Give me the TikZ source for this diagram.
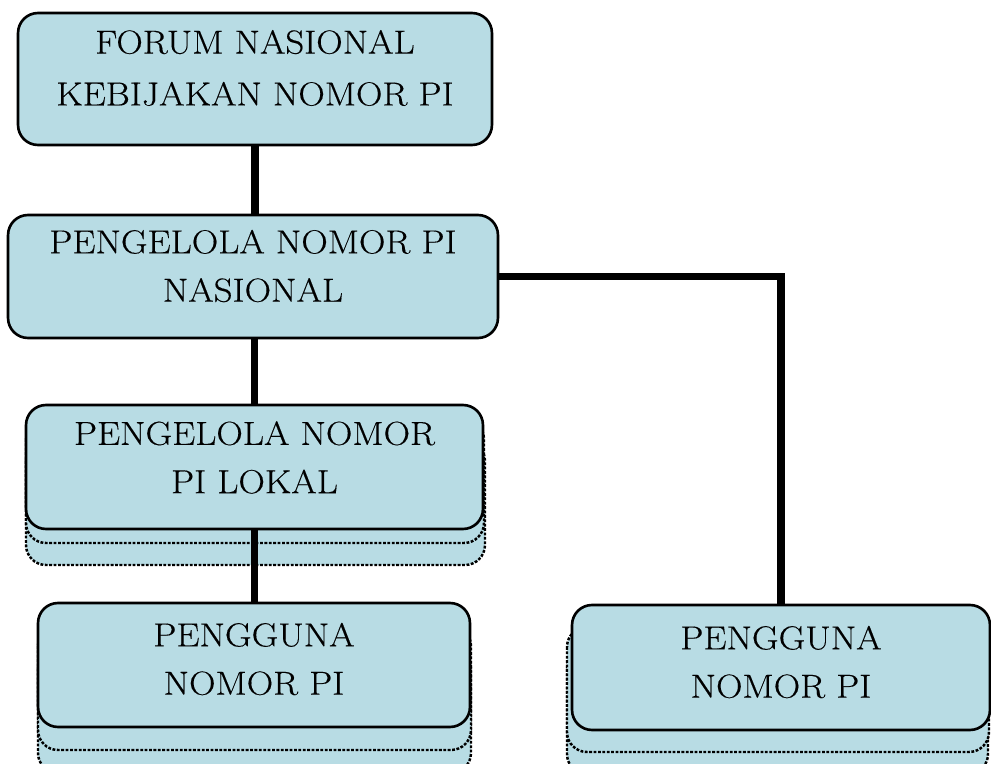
\documentclass[tikz,border=0pt]{standalone}
\usepackage{fontspec}
\setmainfont{Latin Modern Roman}[FakeStretch=1.1,FakeBold=0.35]
\usetikzlibrary{calc}
\definecolor{boxblue}{RGB}{184,220,228}
\begin{document}
\begin{tikzpicture}[x=0.02cm,y=-0.02cm,
  box/.style={draw=black, line width=1.5pt, fill=boxblue, rounded corners=0.4cm, inner sep=0pt},
  layer/.style={draw=black, line width=1.4pt, fill=boxblue, rounded corners=0.4cm, dash pattern=on 1.6pt off 0.9pt},
  txt/.style={align=center, inner sep=0pt, font=\fontsize{19}{27.5}\selectfont},
  link/.style={line width=4pt, line join=miter}]

\useasboundingbox (0,0) rectangle (991,764);

% stacked layers behind the boxes
\draw[layer] (26,441) rectangle (485,565);
\draw[layer] (26,419) rectangle (484,543);
\draw[layer] (38,649) rectangle (471,773);
\draw[layer] (38,626) rectangle (471,750);
\draw[layer] (567,649) rectangle (988,774);
\draw[layer] (567,627) rectangle (989,752);

% boxes
\node[box, minimum width=9.48cm, minimum height=2.64cm] (b1) at (255,79) {};
\node[box, minimum width=9.8cm,  minimum height=2.46cm] (b2) at (253,276.5) {};
\node[box, minimum width=9.14cm, minimum height=2.48cm] (b3) at (254.5,467) {};
\node[box, minimum width=8.64cm, minimum height=2.48cm] (b4) at (254,665) {};
\node[box, minimum width=8.36cm, minimum height=2.5cm]  (b5) at (781,667.5) {};

% texts
\node[txt, font=\fontsize{19}{29.5}\selectfont] (t1) at (255,68) {FORUM NASIONAL\\KEBIJAKAN NOMOR PI};
\node[txt] (t2) at (253,266) {PENGELOLA NOMOR PI\\NASIONAL};
\node[txt] (t3) at (254.5,457.5) {PENGELOLA NOMOR\\PI LOKAL};
\node[txt] (t4) at (254,659) {PENGGUNA\\NOMOR PI};
\node[txt] (t5) at (781,662) {PENGGUNA\\NOMOR PI};

% connectors
\draw[link] (b1.south) -- (b1.south |- b2.north);
\draw[link] (b3.north |- b2.south) -- (b3.north);
\draw[link] (b3.south) -- (b3.south |- b4.north);
\draw[link] (b2.east) -| (b5.north);
\end{tikzpicture}
\end{document}
